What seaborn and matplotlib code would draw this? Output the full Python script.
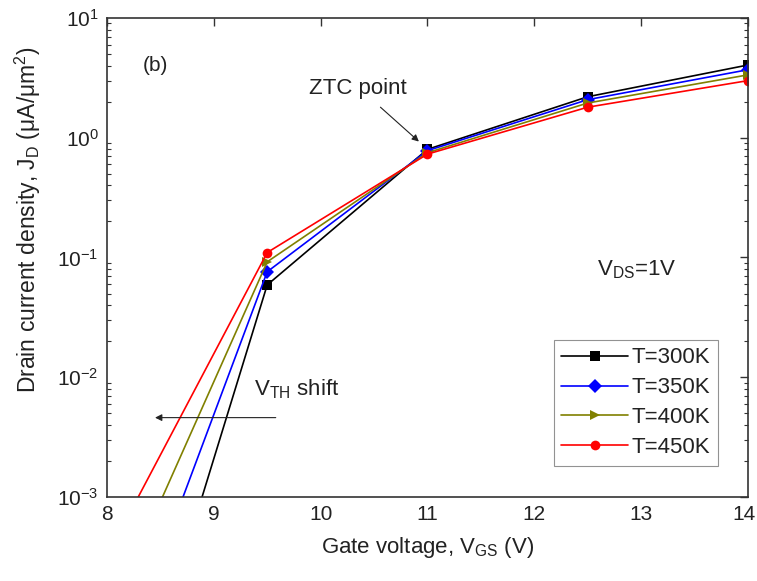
import numpy as np
import pandas as pd
import matplotlib
matplotlib.use("Agg")
import matplotlib.pyplot as plt
import matplotlib.transforms as mtransforms
import seaborn as sns

# ---- data ----
vgs = [8.0, 9.5, 11.0, 12.5, 14.0]
labels = ["T=300K", "T=350K", "T=400K", "T=450K"]
jd_300 = [2.6e-6, 0.059, 0.80, 2.20, 4.05]
jd_350 = [2.0e-5, 0.076, 0.78, 2.08, 3.70]
jd_400 = [9.1e-5, 0.092, 0.75, 1.95, 3.35]
jd_450 = [3.2e-4, 0.110, 0.73, 1.80, 3.00]

colors = ["#000000", "#0000ff", "#808000", "#ff0000"]
markers = ["s", "D", ">", "o"]

rows = []
for lab, ys in zip(labels, [jd_300, jd_350, jd_400, jd_450]):
    for x, y in zip(vgs, ys):
        rows.append({"VGS": x, "JD": y, "T": lab})
df = pd.DataFrame(rows)

sns.set_theme(style="white")
plt.rcParams["font.family"] = ["Liberation Sans", "DejaVu Sans"]
plt.rcParams["mathtext.fontset"] = "custom"
plt.rcParams["mathtext.rm"] = "Liberation Sans"
plt.rcParams["mathtext.it"] = "Liberation Sans:italic"
plt.rcParams["mathtext.default"] = "rm"

TXT = "#222222"
fig = plt.figure(figsize=(7.57, 5.81), dpi=100)
ax = fig.add_axes([0.1413, 0.1446, 0.8467, 0.8244])

sns.lineplot(data=df, x="VGS", y="JD", hue="T", style="T",
             hue_order=labels, style_order=labels,
             palette=dict(zip(labels, colors)),
             markers=dict(zip(labels, markers)), dashes=False,
             markersize=7, markeredgewidth=0, linewidth=1.2,
             ax=ax, legend=True)

ax.set_yscale("log")
ax.set_xlim(8, 14)
ax.set_ylim(1e-3, 1e1)
ax.set_xticks([8, 9, 10, 11, 12, 13, 14])
ax.tick_params(axis="both", which="major", direction="in", length=6, width=1,
               top=True, right=True, labelsize=15, colors="#333333",
               labelcolor=TXT, pad=6)
ax.tick_params(axis="y", which="minor", direction="in", length=3, width=0.8,
               left=True, right=True, colors="#333333")
for s in ax.spines.values():
    s.set_color("#333333")
    s.set_linewidth(1.2)

fig.canvas.draw()
last = ax.get_xticklabels()[-1]
last.set_transform(last.get_transform() +
                   mtransforms.ScaledTranslation(-4 / 100, 0, fig.dpi_scale_trans))

ax.set_xlabel("Gate voltage, V$_{\\mathrm{GS}}$ (V)", fontsize=16, color=TXT, labelpad=8)
ax.set_ylabel("Drain current density, J$_{\\mathrm{D}}$ (\u03bcA/\u03bcm$^{2}$)", fontsize=16.5,
              color=TXT)
ax.yaxis.set_label_coords(-0.100, 0.578)

ax.text(0.056, 0.89, "(b)", transform=ax.transAxes, fontsize=15, color=TXT)
ax.text(10.35, 2.6, "ZTC point", fontsize=16, color=TXT, ha="center", va="center")
ax.annotate("", xy=(10.92, 0.93), xytext=(10.56, 1.8),
            arrowprops=dict(arrowstyle="-|>", color=TXT, lw=0.8,
                            shrinkA=0, shrinkB=0, mutation_scale=10))
ax.annotate("", xy=(8.45, 4.6e-3), xytext=(9.58, 4.6e-3),
            arrowprops=dict(arrowstyle="-|>", color=TXT, lw=0.8,
                            shrinkA=0, shrinkB=0, mutation_scale=10))
ax.text(9.38, 7.9e-3, "V$_{\\mathrm{TH}}$ shift", fontsize=16, color=TXT, va="center")
ax.text(12.96, 0.079, "V$_{\\mathrm{DS}}$=1V", fontsize=16, color=TXT, ha="center", va="center")

leg = ax.legend(loc="lower right", bbox_to_anchor=(0.953, 0.065), fontsize=16,
                frameon=True, fancybox=False, edgecolor="#777777",
                handlelength=3.0, handletextpad=0.15, borderpad=0.35,
                labelspacing=0.4, borderaxespad=0)
leg.get_frame().set_linewidth(0.8)
for t in leg.get_texts():
    t.set_color(TXT)

fig.savefig("out.png", dpi=100)
